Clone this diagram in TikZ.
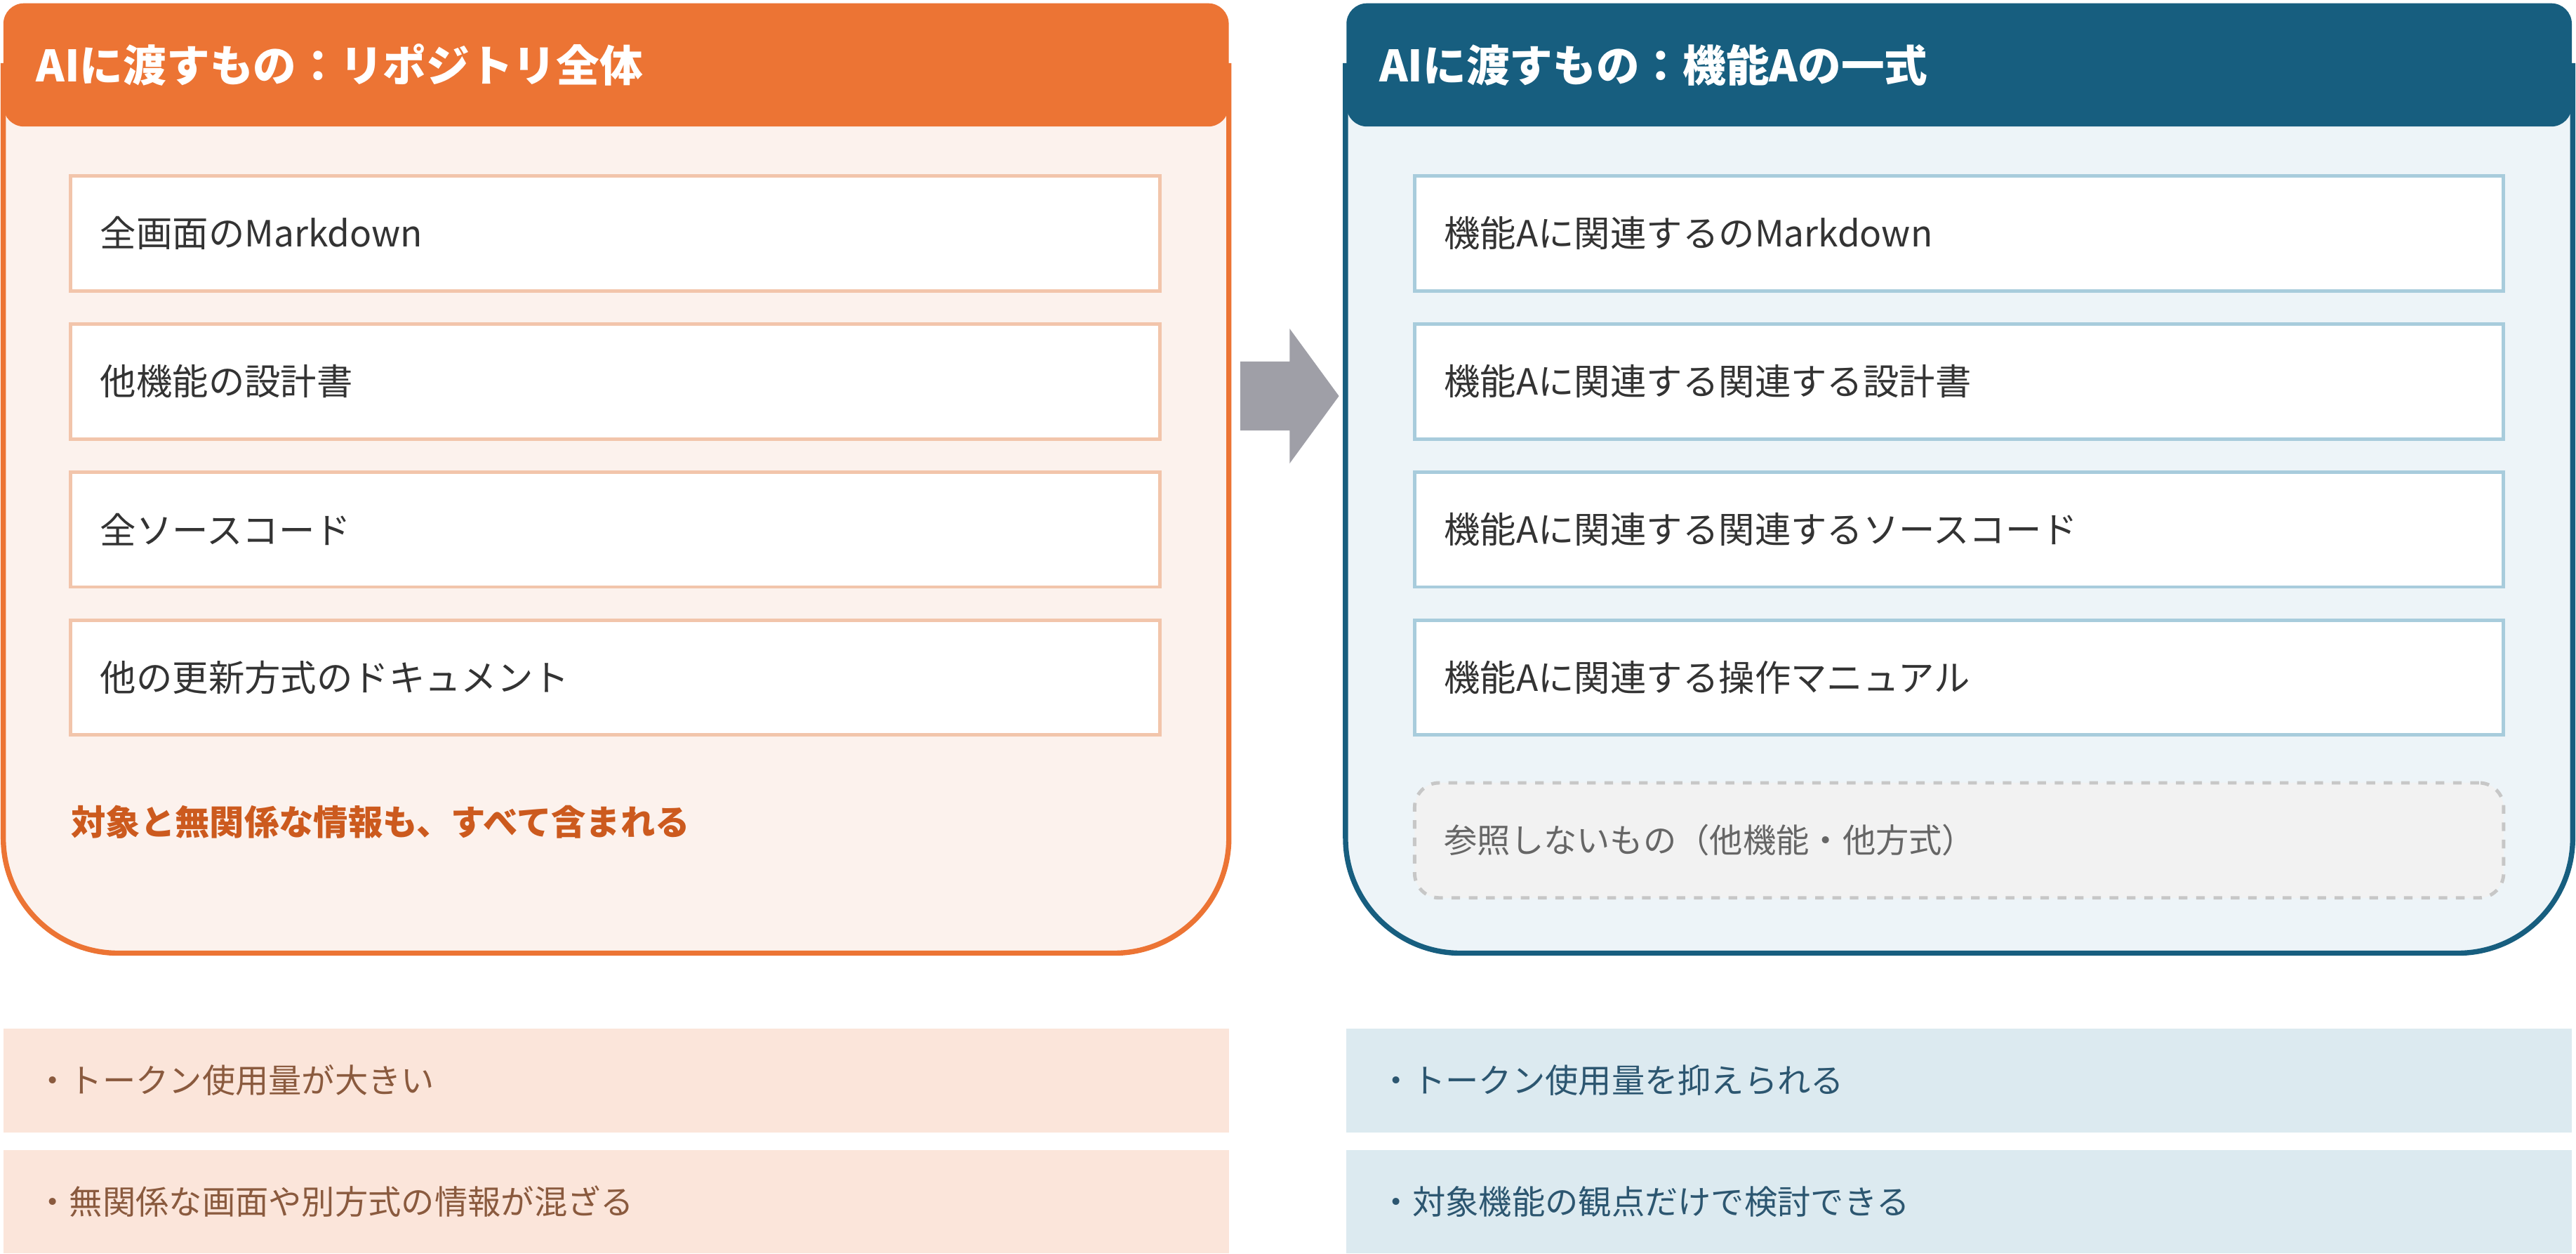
\documentclass[tikz,border=0pt]{standalone}
\usepackage{fontspec}
\setmainfont{Noto Sans CJK JP}
\usepackage{xcolor}
\usetikzlibrary{positioning}
\definecolor{orangeMain}{HTML}{EC7434}
\definecolor{orangeLight}{HTML}{FCF2ED}
\definecolor{orangeLine}{HTML}{F2C5AB}
\definecolor{orangeText}{HTML}{CC5A1E}
\definecolor{orangeNote}{HTML}{FBE5DA}
\definecolor{brownText}{HTML}{8A5A3E}
\definecolor{blueMain}{HTML}{175E7F}
\definecolor{blueLight}{HTML}{EDF4F8}
\definecolor{blueLine}{HTML}{A8CCDC}
\definecolor{blueNote}{HTML}{DCEAF0}
\definecolor{blueText}{HTML}{2C5670}
\definecolor{itemText}{HTML}{333333}
\tikzset{
  header/.style={rounded corners=0.25cm, minimum height=1.5cm, inner xsep=0.4cm,
    text width=14.12cm, align=left, text=white, font=\fontsize{15}{18}\selectfont\bfseries},
  item/.style={draw, line width=1.2pt, fill=white, minimum height=1.4cm, inner xsep=0.36cm,
    text width=12.54cm, align=left, text=itemText, font=\fontsize{12.5}{15}\selectfont},
  note/.style={minimum height=1.26cm, inner xsep=0.4cm, text width=14.12cm, align=left,
    font=\fontsize{11.5}{14}\selectfont},
}
\begin{document}
\begin{tikzpicture}[x=0.02cm,y=-0.02cm]
  \useasboundingbox (0,0) rectangle (1568,763);
  % left panel
  \path[draw=orangeMain, fill=orangeLight, line width=1.8pt] (2,40)
    [rounded corners=1.4cm] -- (2,580) -- (748,580) [sharp corners] -- (748,40) -- cycle;
  \node[header, fill=orangeMain] (lhead) at (375,39.5) {AIに渡すもの：リポジトリ全体};
  \node[item, draw=orangeLine] (l1) at (374.5,142) {全画面のMarkdown};
  \node[item, draw=orangeLine, below=0.36cm of l1] (l2) {他機能の設計書};
  \node[item, draw=orangeLine, below=0.36cm of l2] (l3) {全ソースコード};
  \node[item, draw=orangeLine, below=0.36cm of l3] (l4) {他の更新方式のドキュメント};
  \node[anchor=west, inner sep=0pt, text=orangeText, font=\fontsize{12}{14}\selectfont\bfseries]
    (lsum) at (43,500) {対象と無関係な情報も、すべて含まれる};

  % right panel
  \path[draw=blueMain, fill=blueLight, line width=1.8pt] (819,40)
    [rounded corners=1.4cm] -- (819,580) -- (1566,580) [sharp corners] -- (1566,40) -- cycle;
  \node[header, fill=blueMain] (rhead) at (1192.5,39.5) {AIに渡すもの：機能Aの一式};
  \node[item, draw=blueLine] (r1) at (1192.5,142) {機能Aに関連するのMarkdown};
  \node[item, draw=blueLine, below=0.36cm of r1] (r2) {機能Aに関連する関連する設計書};
  \node[item, draw=blueLine, below=0.36cm of r2] (r3) {機能Aに関連する関連するソースコード};
  \node[item, draw=blueLine, below=0.36cm of r3] (r4) {機能Aに関連する操作マニュアル};
  \node[item, draw=black!22, fill=black!5, dashed, rounded corners=0.3cm, text=black!60,
    font=\fontsize{11.5}{14}\selectfont, below=0.54cm of r4] (r5) {参照しないもの（他機能・他方式）};

  % arrow
  \fill[black!40!blue!8!gray!70] (755,220) -- (785,220) -- (785,200) -- (815,241)
    -- (785,282) -- (785,262) -- (755,262) -- cycle;

  % notes
  \node[note, fill=orangeNote, text=brownText] (ln1) at (375,657.5) {・トークン使用量が大きい};
  \node[note, fill=orangeNote, text=brownText, below=0.2cm of ln1] (ln2) {・無関係な画面や別方式の情報が混ざる};
  \node[note, fill=blueNote, text=blueText] (rn1) at (1192.5,657.5) {・トークン使用量を抑えられる};
  \node[note, fill=blueNote, text=blueText, below=0.2cm of rn1] (rn2) {・対象機能の観点だけで検討できる};
\end{tikzpicture}
\end{document}
